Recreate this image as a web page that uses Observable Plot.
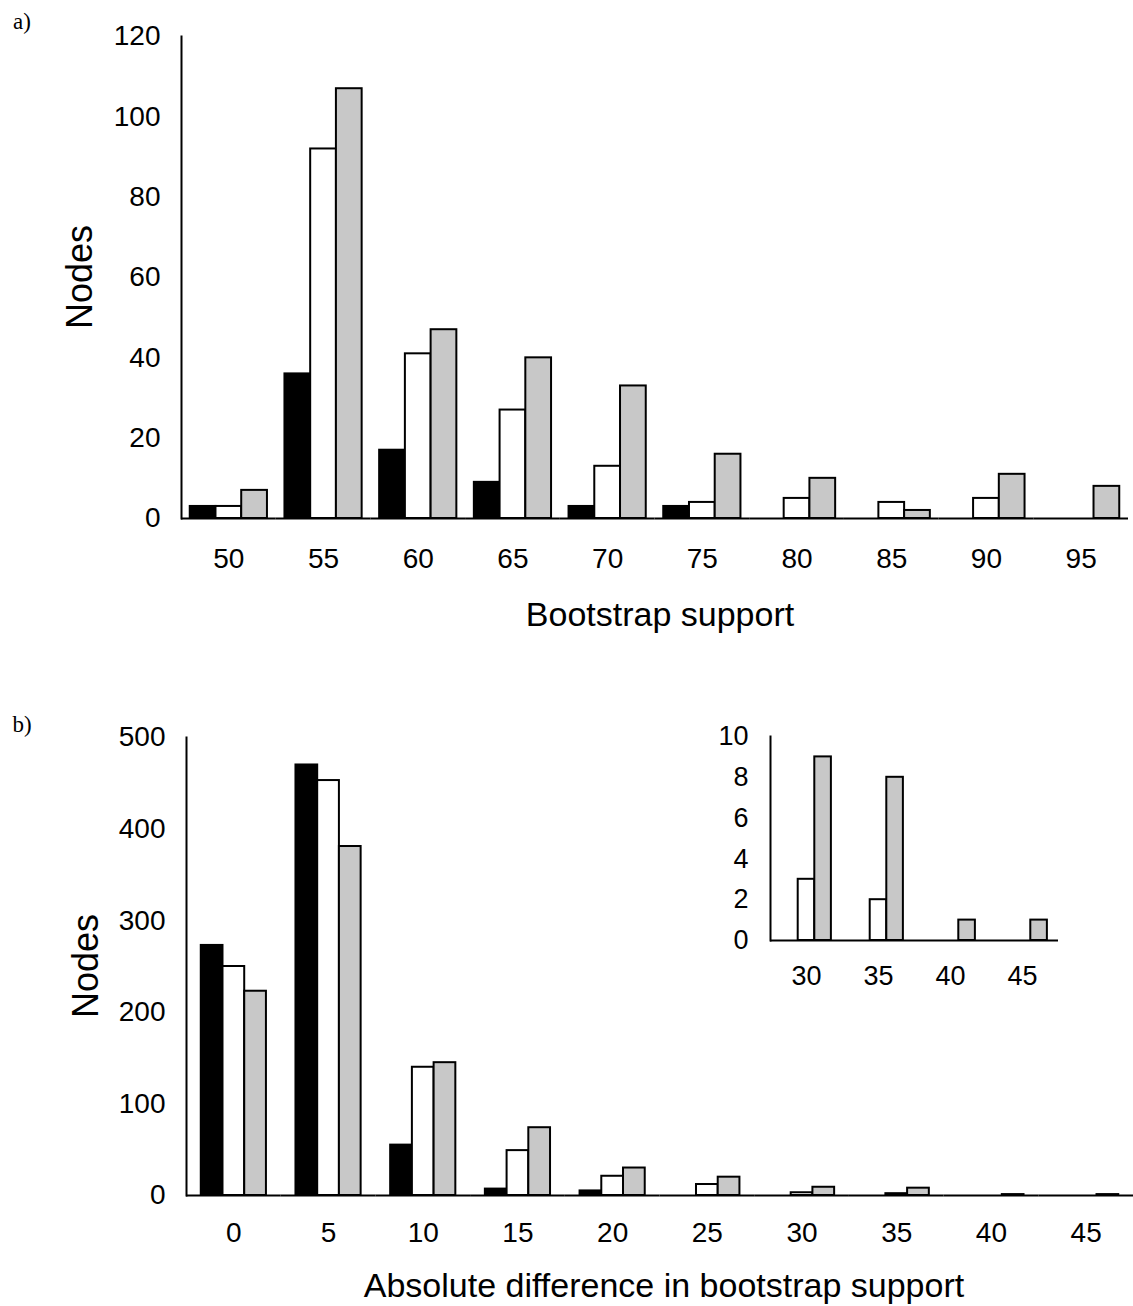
<!DOCTYPE html>
<html>
<head>
<meta charset="utf-8">
<script src="https://cdn.jsdelivr.net/npm/d3@7"></script>
<script src="https://cdn.jsdelivr.net/npm/@observablehq/plot@0.6"></script>
<style>
  body { margin: 0; background: #fff; }
  #root { position: relative; width: 1133px; height: 1306px; overflow: hidden; background: #fff;
          font-family: "Liberation Sans", Arial, Helvetica, sans-serif; color: #000; }
  .box { position: absolute; }
  .lbl { position: absolute; line-height: 1; white-space: nowrap; transform: translate(-50%, -50%); }
  .rot { transform: translate(-50%, -50%) rotate(-90deg); }
  .panel { font-family: "Liberation Serif", "Times New Roman", serif; font-size: 23px; }
</style>
</head>
<body>
<div id="root">
  <div class="box" id="chartA" style="left:0;top:0;"></div>
  <div class="box" id="chartB" style="left:0;top:660px;"></div>
  <div class="box" id="inset" style="left:680px;top:700px;"></div>
  <div class="lbl panel" style="left:22px;top:21px;">a)</div>
  <div class="lbl panel" style="left:22px;top:724px;">b)</div>
  <div class="lbl rot" style="left:80px;top:277px;font-size:36px;">Nodes</div>
  <div class="lbl" style="left:660px;top:614px;font-size:34px;">Bootstrap support</div>
  <div class="lbl rot" style="left:86px;top:966px;font-size:36px;">Nodes</div>
  <div class="lbl" style="left:664px;top:1285px;font-size:34px;">Absolute difference in bootstrap support</div>
</div>
<script>
// ---- data ----
const series = ["s1", "s2", "s3"];

// a) Bootstrap support
const catsA = [50, 55, 60, 65, 70, 75, 80, 85, 90, 95];
const aBlack = [3, 36, 17, 9, 3, 3, 0, 0, 0, 0];
const aWhite = [3, 92, 41, 27, 13, 4, 5, 4, 5, 0];
const aGray  = [7, 107, 47, 40, 33, 16, 10, 2, 11, 8];
const ticksA = [0, 20, 40, 60, 80, 100, 120];

// b) Absolute difference in bootstrap support
const catsB = [0, 5, 10, 15, 20, 25, 30, 35, 40, 45];
const bBlack = [273, 470, 55, 7, 5, 0, 0, 0, 0, 0];
const bWhite = [250, 453, 140, 49, 21, 12, 3, 2, 0, 0];
const bGray  = [223, 381, 145, 74, 30, 20, 9, 8, 1, 1];
const ticksB = [0, 100, 200, 300, 400, 500];

// inset of b)
const catsI = [30, 35, 40, 45];
const iBlack = [0, 0, 0, 0];
const iWhite = [3, 2, 0, 0];
const iGray  = [9, 8, 1, 1];
const ticksI = [0, 2, 4, 6, 8, 10];

const fills = ["#000000", "#ffffff", "#c8c8c8"];

function tidy(cats, cols) {
  return cats.flatMap((c, i) => series.map((s, j) => ({cat: c, series: s, value: cols[j][i]})));
}

function grouped(o) {
  const data = tidy(o.cats, o.cols);
  return Plot.plot({
    width: o.width, height: o.height,
    marginLeft: o.ml, marginRight: o.mr, marginTop: o.mt, marginBottom: o.mb,
    style: {background: "transparent", fontFamily: "'Liberation Sans', Arial, Helvetica, sans-serif",
            fontSize: o.fs + "px", color: "#000", overflow: "visible"},
    fx: {domain: o.cats, padding: 0, round: false, label: null},
    x: {domain: series, paddingInner: 0, paddingOuter: o.po, round: false, axis: null},
    y: {domain: [0, o.ymax], label: null},
    color: {domain: series, range: fills},
    marks: [
      Plot.barY(data.filter(d => d.value > 0), {fx: "cat", x: "series", y: "value", fill: "series",
        stroke: "#000", strokeWidth: 2}),
      Plot.ruleY([0], {stroke: "#000", strokeWidth: 2}),
      Plot.frame({anchor: "left", facetAnchor: "left", stroke: "#000", strokeWidth: 2}),
      Plot.axisY({ticks: o.ticks, tickSize: 0, tickPadding: o.yp, label: null, fontSize: o.fs}),
      Plot.axisFx({anchor: "bottom", tickSize: 0, tickPadding: o.fxp, label: null, fontSize: o.fs})
    ]
  });
}

document.getElementById("chartA").append(grouped({
  cats: catsA, cols: [aBlack, aWhite, aGray], ticks: ticksA, ymax: 120,
  width: 1133, height: 650, ml: 181, mr: 5, mt: 36, mb: 132, po: 0.34, fs: 28, yp: 21, fxp: 30
}));

document.getElementById("chartB").append(grouped({
  cats: catsB, cols: [bBlack, bWhite, bGray], ticks: ticksB, ymax: 500,
  width: 1133, height: 646, ml: 186, mr: 0, mt: 77, mb: 111, po: 0.68, fs: 28, yp: 21, fxp: 27
}));

document.getElementById("inset").append(grouped({
  cats: catsI, cols: [iBlack, iWhite, iGray], ticks: ticksI, ymax: 10,
  width: 400, height: 310, ml: 90, mr: 22, mt: 36, mb: 70, po: 0.67, fs: 27, yp: 22, fxp: 25
}));
</script>
</body>
</html>
